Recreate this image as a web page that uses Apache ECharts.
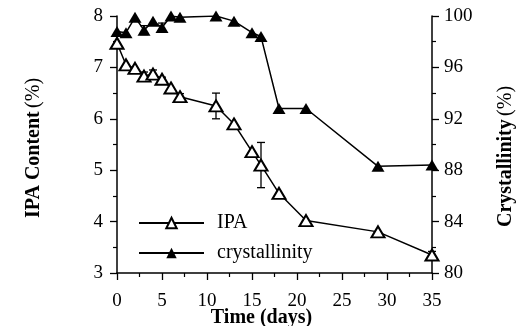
<!DOCTYPE html>
<html>
<head>
<meta charset="utf-8">
<script src="https://cdn.jsdelivr.net/npm/echarts@6/dist/echarts.min.js"></script>
<style>
  html, body { margin: 0; padding: 0; background: #fff; }
  #main { width: 517px; height: 326px; }
</style>
</head>
<body>
<div id="main"></div>
<script>
// sampling days
const days = [0, 1, 2, 3, 4, 5, 6, 7, 11, 13, 15, 16, 18, 21, 29, 35];
// IPA content (%) and its error half-width
const ipa = [7.47, 7.05, 6.98, 6.83, 6.87, 6.77, 6.6, 6.43, 6.25, 5.9, 5.36, 5.1, 4.55, 4.02, 3.8, 3.35];
const ipaErr = [0, 0, 0, 0.08, 0.08, 0.04, 0, 0.06, 0.25, 0, 0, 0.44, 0, 0, 0, 0.07];
// crystallinity (%) and its error half-width
const cryst = [98.8, 98.7, 99.9, 98.9, 99.6, 99.1, 100, 99.9, 100, 99.6, 98.7, 98.4, 92.8, 92.8, 88.3, 88.4];
const crystErr = [0, 0, 0, 0.35, 0, 0.35, 0, 0, 0, 0, 0, 0, 0, 0, 0, 0];

const FONT = '"Liberation Serif", "DejaVu Serif", serif';

function pairs(xs, ys) {
  return xs.map((x, i) => [x, ys[i]]);
}
function errRows(xs, ys, es) {
  const out = [];
  xs.forEach((x, i) => { if (es[i] > 0) out.push([x, ys[i] - es[i], ys[i] + es[i]]); });
  return out;
}
function errorBar(params, api) {
  const x = api.value(0);
  const lo = api.coord([x, api.value(1)]);
  const hi = api.coord([x, api.value(2)]);
  const st = { stroke: '#000', lineWidth: 1.3 };
  return {
    type: 'group',
    children: [
      { type: 'line', shape: { x1: lo[0], y1: lo[1], x2: hi[0], y2: hi[1] }, style: st },
      { type: 'line', shape: { x1: lo[0] - 4, y1: lo[1], x2: lo[0] + 4, y2: lo[1] }, style: st },
      { type: 'line', shape: { x1: hi[0] - 4, y1: hi[1], x2: hi[0] + 4, y2: hi[1] }, style: st }
    ]
  };
}

const axisLine = { show: true, lineStyle: { color: '#000', width: 1.5 } };
const tick = { show: true, length: 7, lineStyle: { color: '#000', width: 1.3 } };
const minor = { show: true, splitNumber: 2, length: 4, lineStyle: { color: '#000', width: 1.2 } };
const lbl = { color: '#000', fontFamily: FONT, fontSize: 19 };
const nameStyle = {
  rich: {
    b: { fontFamily: FONT, fontSize: 20, fontWeight: 'bold', color: '#000' },
    n: { fontFamily: FONT, fontSize: 20, color: '#000' }
  }
};

const chart = echarts.init(document.getElementById('main'), null, { renderer: 'canvas' });
chart.setOption({
  animation: false,
  backgroundColor: '#fff',
  grid: { left: 117, right: 85, top: 16, bottom: 53, containLabel: false, outerBoundsMode: 'none' },
  legend: {
    left: 133,
    top: 208,
    orient: 'vertical',
    itemWidth: 65,
    itemHeight: 13,
    itemGap: 10,
    textStyle: { fontFamily: FONT, fontSize: 20, lineHeight: 20, color: '#000', padding: [0, 0, 0, 8] },
    data: ['IPA', 'crystallinity']
  },
  xAxis: {
    type: 'value',
    min: 0, max: 35, interval: 5,
    name: '{b|Time (days)}',
    nameLocation: 'middle',
    nameGap: 35,
    nameMoveOverlap: false,
    nameTextStyle: Object.assign({ padding: [0, 26, 0, 0] }, nameStyle),
    axisLine: axisLine,
    axisTick: tick,
    minorTick: minor,
    splitLine: { show: false },
    axisLabel: Object.assign({ margin: 19 }, lbl)
  },
  yAxis: [
    {
      type: 'value',
      min: 3, max: 8, interval: 1,
      name: '{b|IPA Content} {n|(%)}',
      nameLocation: 'middle',
      nameRotate: 90,
      nameGap: 73,
      nameTextStyle: Object.assign({ padding: [0, 7, 0, 0] }, nameStyle),
      axisLine: axisLine,
      axisTick: tick,
      minorTick: minor,
      splitLine: { show: false },
      axisLabel: Object.assign({ margin: 14 }, lbl)
    },
    {
      type: 'value',
      position: 'right',
      min: 80, max: 100, interval: 4,
      name: '{b|Crystallinity} {n|(%)}',
      nameLocation: 'middle',
      nameRotate: 90,
      nameGap: 64,
      nameTextStyle: Object.assign({ padding: [0, 24, 0, 0] }, nameStyle),
      axisLine: axisLine,
      axisTick: tick,
      minorTick: minor,
      splitLine: { show: false },
      axisLabel: Object.assign({ margin: 12 }, lbl)
    }
  ],
  series: [
    {
      type: 'custom',
      yAxisIndex: 0,
      renderItem: errorBar,
      data: errRows(days, ipa, ipaErr),
      z: 1,
      silent: true
    },
    {
      type: 'custom',
      yAxisIndex: 1,
      renderItem: errorBar,
      data: errRows(days, cryst, crystErr),
      z: 1,
      silent: true
    },
    {
      name: 'crystallinity',
      type: 'line',
      yAxisIndex: 1,
      data: pairs(days, cryst),
      symbol: 'triangle',
      symbolSize: [13, 11],
      color: '#000',
      lineStyle: { color: '#000', width: 1.5 },
      itemStyle: { color: '#000', borderWidth: 0 },
      z: 3
    },
    {
      name: 'IPA',
      type: 'line',
      yAxisIndex: 0,
      data: pairs(days, ipa),
      symbol: 'emptyTriangle',
      symbolSize: [13, 11],
      color: '#000',
      lineStyle: { color: '#000', width: 1.5 },
      itemStyle: { color: '#000', borderColor: '#000', borderWidth: 1.5 },
      z: 4
    }
  ]
});
</script>
</body>
</html>
